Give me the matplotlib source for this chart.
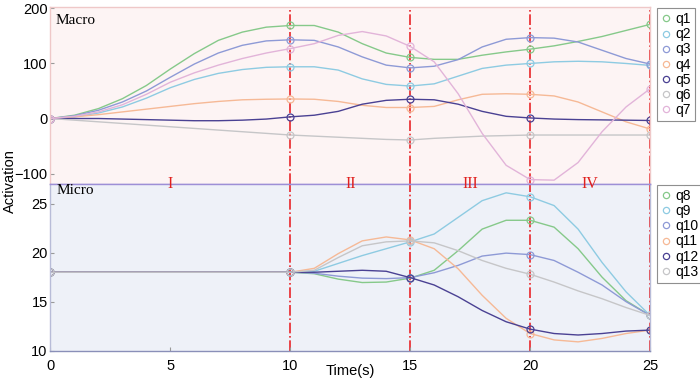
import matplotlib
matplotlib.use("Agg")
import matplotlib.pyplot as plt
from matplotlib.lines import Line2D
import numpy as np

plt.rcParams['font.family'] = ['Liberation Sans', 'DejaVu Sans']
plt.rcParams['font.size'] = 10.5

# time axis (s), one sample per second
t = [0, 1, 2, 3, 4, 5, 6, 7, 8, 9, 10, 11, 12, 13, 14, 15, 16, 17, 18, 19, 20, 21, 22, 23, 24, 25]
stages = [0, 10, 15, 20, 25]
stage_names = ['I', 'II', 'III', 'IV']
stage_mid = [5, 12.5, 17.5, 22.5]

# macro activations
q1 = [0, 6, 18, 36, 60, 90, 118, 142, 157, 166, 169, 169, 157, 136, 119, 111, 107.5, 107.5, 115, 121, 126, 132, 140, 149, 160, 171]
q2 = [0, 3, 10, 21, 37, 56, 71, 82, 89, 93, 94, 94, 88, 72, 62, 59, 63, 77, 91, 97, 100, 103, 104, 103, 100, 96.5]
q3 = [0, 5, 15, 30, 50, 75, 99, 119, 133, 141, 143, 142, 130, 112, 97, 92, 95, 107, 130, 144, 147, 146, 139, 124, 109, 99]
q4 = [0, 3, 7, 12, 17, 22, 27, 31, 34, 35, 35.5, 35, 31, 24, 20, 20, 22, 34, 44, 45, 44, 41, 30, 12, -6, -19]
q5 = [0, 0, 0, -1, -2, -3, -4, -4, -3, -1, 3, 6, 13, 26, 33, 35, 34, 26, 13, 4, 1, -1, -2, -2.5, -3, -3.6]
q6 = [0, -3, -6, -9, -12, -15, -18, -21, -24, -27, -30, -32, -34, -36, -38, -39, -36, -34, -32, -31, -30, -30, -30, -30, -30, -30]
q7 = [0, 4, 12, 25, 44, 66, 83, 97, 109, 119, 127, 136, 151, 158, 150, 131, 103, 45, -27, -85, -111, -112, -80, -24, 21, 54]

# micro activations
q8 = [18, 18, 18, 18, 18, 18, 18, 18, 18, 18, 18, 17.85, 17.3, 16.95, 17.0, 17.4, 18.2, 20.2, 22.4, 23.3, 23.3, 22.6, 20.4, 17.5, 15.1, 13.6]
q9 = [18, 18, 18, 18, 18, 18, 18, 18, 18, 18, 18, 18.1, 18.9, 19.7, 20.4, 21.1, 21.9, 23.6, 25.3, 26.1, 25.7, 24.8, 22.4, 19.0, 16.0, 13.6]
q10 = [18, 18, 18, 18, 18, 18, 18, 18, 18, 18, 18, 17.9, 17.6, 17.4, 17.35, 17.45, 17.95, 18.7, 19.65, 19.95, 19.8, 19.2, 18.0, 16.7, 15.0, 13.6]
q11 = [18, 18, 18, 18, 18, 18, 18, 18, 18, 18, 18, 18.4, 19.9, 21.2, 21.6, 21.3, 20.4, 18.35, 15.65, 13.3, 11.75, 11.1, 10.9, 11.25, 11.75, 12.1]
q12 = [18, 18, 18, 18, 18, 18, 18, 18, 18, 18, 18, 18.0, 18.1, 18.2, 18.1, 17.45, 16.7, 15.5, 14.1, 12.95, 12.2, 11.75, 11.6, 11.75, 12.0, 12.1]
q13 = [18, 18, 18, 18, 18, 18, 18, 18, 18, 18, 18, 18.2, 19.5, 20.7, 21.1, 21.2, 21.0, 20.2, 19.2, 18.4, 17.8, 17.0, 16.1, 15.3, 14.4, 13.6]

macro = [q1, q2, q3, q4, q5, q6, q7]
micro = [q8, q9, q10, q11, q12, q13]
macro_labels = ['q1', 'q2', 'q3', 'q4', 'q5', 'q6', 'q7']
micro_labels = ['q8', 'q9', 'q10', 'q11', 'q12', 'q13']
colors = ['#86c98a', '#8ecbe2', '#8e9ad6', '#f6b996', '#4a4193', '#c6c6c8', '#e2b4d9']

fig = plt.figure(figsize=(7, 3.86), dpi=100)
ax1 = fig.add_axes([0.0721, 0.5233, 0.8565, 0.4577])
ax2 = fig.add_axes([0.0721, 0.0915, 0.8565, 0.4318], sharex=ax1)

ax1.set_facecolor('#fdf4f4')
ax2.set_facecolor('#eef1f8')

mark_idx = [t.index(s) for s in stages]

for vals, c in zip(macro, colors):
    ax1.plot(t, vals, color=c, lw=1.0, marker='o', markevery=mark_idx,
             ms=5, mfc='none', mew=0.9)
for vals, c in zip(micro, colors):
    ax2.plot(t, vals, color=c, lw=1.0, marker='o', markevery=mark_idx,
             ms=5, mfc='none', mew=0.9)

# stage boundaries
for ax in (ax1, ax2):
    for s in stages:
        ax.axvline(s, color='#e8262a', lw=1.2, ls='-.', zorder=1)
    ax.tick_params(direction='in', length=3, color='#999999', labelsize=10.5)

ax1.set_xlim(0, 25)
ax1.set_ylim(-119, 202)
ax1.set_yticks([-100, 0, 100, 200])
ax1.tick_params(axis='x', bottom=False, labelbottom=False)
ax1.tick_params(axis='y', pad=2)
ax2.set_ylim(10, 27)
ax2.set_yticks([10, 15, 20, 25])
ax2.set_xticks([0, 5, 10, 15, 20, 25])
ax2.tick_params(axis='x', pad=6)
ax2.tick_params(axis='y', pad=2)

ax1.spines['top'].set_color('#efc8c8')
ax1.spines['left'].set_color('#efc8c8')
ax1.spines['right'].set_color('#efc8c8')
ax1.spines['bottom'].set_color('#9d8fd6')
ax2.spines['top'].set_color('#9d8fd6')
ax2.spines['left'].set_color('#b8bcd8')
ax2.spines['right'].set_color('#b8bcd8')
ax2.spines['bottom'].set_color('#8a8fb8')
for ax in (ax1, ax2):
    for sp in ax.spines.values():
        sp.set_linewidth(1.0)

ax1.text(0.008, 0.96, 'Macro', transform=ax1.transAxes, family='Liberation Serif',
         fontsize=11, va='top', ha='left')
ax2.text(0.01, 1.0, 'Micro', transform=ax2.transAxes, family='Liberation Serif',
         fontsize=11, va='top', ha='left')

for name, xm in zip(stage_names, stage_mid):
    ax2.annotate(name, xy=(xm, 1.0), xycoords=('data', 'axes fraction'),
                 ha='center', va='center', color='#e0201e',
                 family='Liberation Serif', fontsize=11.5, annotation_clip=False,
                 zorder=5)

fig.text(0.014, 0.53, 'Activation', rotation=90, ha='center', va='center', fontsize=10.5)
fig.text(0.5, 0.04, 'Time(s)', ha='center', va='center', fontsize=10.5)

h1 = [Line2D([], [], ls='none', marker='o', ms=4.5, mfc='none', mew=0.9, color=c)
      for c in colors[:7]]
h2 = [Line2D([], [], ls='none', marker='o', ms=4.5, mfc='none', mew=0.9, color=c)
      for c in colors[:6]]
leg_kw = dict(loc='upper left', borderaxespad=0, fancybox=False, edgecolor='#8f8f8f',
              handlelength=0.7, handletextpad=0.35, labelspacing=0.08,
              borderpad=0.3, fontsize=10, framealpha=1)
leg1 = fig.legend(h1, macro_labels, bbox_to_anchor=(0.938, 0.979), **leg_kw)
leg2 = fig.legend(h2, micro_labels, bbox_to_anchor=(0.938, 0.521), **leg_kw)
leg1.get_frame().set_linewidth(0.8)
leg2.get_frame().set_linewidth(0.8)

fig.savefig('out.png', dpi=100)
